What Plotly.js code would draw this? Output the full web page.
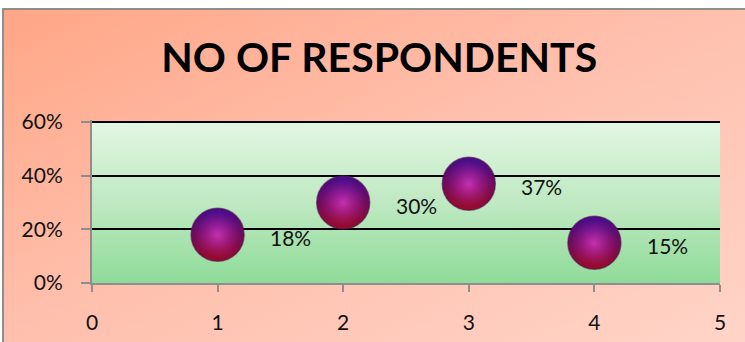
<!DOCTYPE html>
<html>
<head>
<meta charset="utf-8">
<script src="https://cdn.plot.ly/plotly-3.0.1.min.js"></script>
<style>
  html, body { margin:0; padding:0; background:#ffffff; overflow:hidden; }
  #wrap { position:absolute; left:0; top:0; width:745px; height:342px; overflow:hidden; }
  #frame { position:absolute; left:2px; top:8px; width:760px; height:360px; box-sizing:border-box;
           border:2px solid #8e8e8e;
           background:linear-gradient(to bottom right, #ffa686 0%, #ffbfac 45%, #ffd6ca 100%); }
  #plotbg { position:absolute; left:92px; top:122px; width:628px; height:161px;
            background:linear-gradient(to bottom, #e2f6e2 0%, #bfe9c2 50%, #8fdb98 100%); }
  #chart { position:absolute; left:0; top:0; width:745px; height:342px; }
</style>
</head>
<body>
<div id="wrap">
  <div id="frame"></div>
  <div id="plotbg"></div>
  <div id="chart"></div>
</div>
<script>
const xValues = [1, 2, 3, 4];
const shares = [0.18, 0.30, 0.37, 0.15];
const shareLabels = ['18%', '30%', '37%', '15%'];
const yTickVals = [0, 0.2, 0.4, 0.6];
const yTickText = ['0%', '20%', '40%', '60%'];
const xTickVals = [0, 1, 2, 3, 4, 5];

const font = 'Lato, "Open Sans", sans-serif';

const sphereBase = {
  x: xValues, y: shares, type: 'scatter', mode: 'markers', hoverinfo: 'skip',
  marker: { size: 53, color: '#4a14b4',
            gradient: { type: 'vertical', color: '#c4101e' },
            line: { width: 1.5, color: 'rgba(90,20,90,0.6)' } }
};
const sphereShade = {
  x: xValues, y: shares, type: 'scatter', mode: 'markers', hoverinfo: 'skip',
  marker: { size: 53, color: 'rgba(60,0,60,0.35)',
            gradient: { type: 'radial', color: 'rgba(60,0,60,0)' },
            line: { width: 0 } }
};
const sphereGlow = {
  x: xValues, y: shares, type: 'scatter', mode: 'markers', hoverinfo: 'skip',
  marker: { size: 46, color: 'rgba(170,30,170,0)',
            gradient: { type: 'radial', color: 'rgba(215,60,200,0.75)' },
            line: { width: 0 } }
};

const annotations = xValues.map((xv, i) => ({
  x: xv, y: shares[i], xref: 'x', yref: 'y', text: shareLabels[i],
  showarrow: false, xshift: 73, yshift: -3,
  font: { family: font, size: 21, color: '#111111' }
}));

const layout = {
  width: 745, height: 342,
  margin: { l: 92, r: 25, t: 120, b: 59 },
  paper_bgcolor: 'rgba(0,0,0,0)', plot_bgcolor: 'rgba(0,0,0,0)',
  showlegend: false,
  title: { text: '<b>NO OF RESPONDENTS</b>', x: 0.509, xref: 'container', xanchor: 'center',
           y: 0.83, yref: 'container', yanchor: 'middle',
           font: { family: font, size: 41, color: '#000000' } },
  xaxis: { range: [0, 5], tickvals: xTickVals, showgrid: false, zeroline: false,
           showline: true, linecolor: '#8e8e8e', linewidth: 2,
           ticks: 'outside', ticklen: 7, tickwidth: 2, tickcolor: '#8e8e8e',
           ticklabelstandoff: 13,
           tickfont: { family: font, size: 21, color: '#111111' }, fixedrange: true },
  yaxis: { range: [0, 0.608], tickvals: yTickVals, ticktext: yTickText,
           showgrid: true, gridcolor: '#000000', gridwidth: 2, zeroline: false,
           showline: true, linecolor: '#8e8e8e', linewidth: 2,
           ticks: 'outside', ticklen: 9, tickwidth: 2, tickcolor: '#8e8e8e',
           ticklabelstandoff: 14,
           tickfont: { family: font, size: 21, color: '#111111' }, fixedrange: true },
  annotations: annotations
};

Plotly.newPlot('chart', [sphereBase, sphereShade, sphereGlow], layout, { displayModeBar: false, staticPlot: true });
</script>
</body>
</html>
